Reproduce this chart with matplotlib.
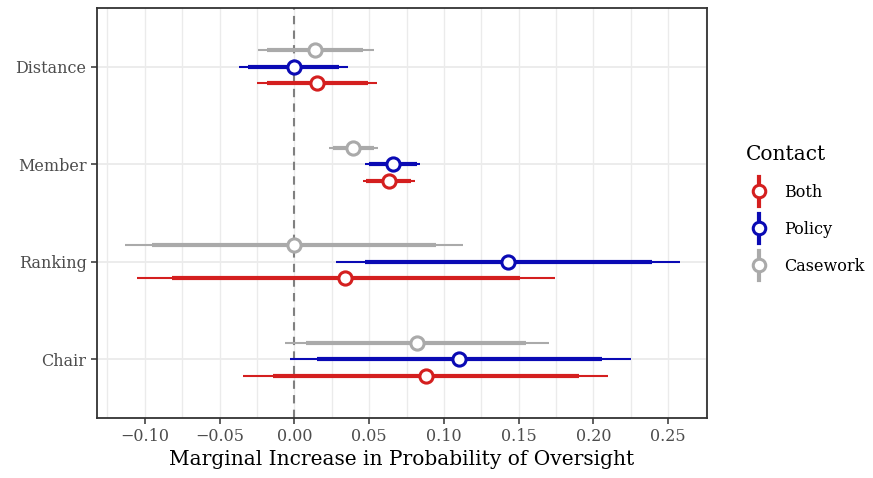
import numpy as np
import matplotlib.pyplot as plt
from matplotlib.lines import Line2D
from matplotlib.legend_handler import HandlerBase

plt.rcParams['font.family'] = ['DejaVu Serif']

categories = ["Chair", "Ranking", "Member", "Distance"]
series = ["Both", "Policy", "Casework"]
colors = {"Both": "#d41f1f", "Policy": "#0a0ab4", "Casework": "#aaaaaa"}

# point estimates, order follows categories
est = {
    "Both":     [0.088, 0.034, 0.063, 0.015],
    "Policy":   [0.110, 0.143, 0.066, 0.000],
    "Casework": [0.082, 0.000, 0.039, 0.014],
}
# wide interval (thin line)
lo_wide = {
    "Both":     [-0.034, -0.105, 0.046, -0.025],
    "Policy":   [-0.003, 0.028, 0.047, -0.037],
    "Casework": [-0.006, -0.113, 0.023, -0.024],
}
hi_wide = {
    "Both":     [0.210, 0.174, 0.081, 0.055],
    "Policy":   [0.225, 0.258, 0.084, 0.036],
    "Casework": [0.170, 0.113, 0.056, 0.053],
}
# narrow interval (thick line)
lo_narrow = {
    "Both":     [-0.014, -0.082, 0.048, -0.018],
    "Policy":   [0.015, 0.047, 0.050, -0.031],
    "Casework": [0.008, -0.095, 0.026, -0.018],
}
hi_narrow = {
    "Both":     [0.190, 0.151, 0.078, 0.049],
    "Policy":   [0.206, 0.239, 0.082, 0.030],
    "Casework": [0.155, 0.095, 0.053, 0.046],
}

offsets = {"Both": -0.17, "Policy": 0.0, "Casework": 0.17}


class HandlerPointRange(HandlerBase):
    def create_artists(self, legend, orig_handle, xdescent, ydescent,
                       width, height, fontsize, trans):
        c = orig_handle.get_color()
        cx = width / 2 - xdescent
        cy = height / 2 - ydescent
        bar = Line2D([cx, cx], [cy - 10.5, cy + 10.5], color=c, lw=3.0,
                     transform=trans)
        dot = Line2D([cx], [cy], marker="o", ls="none", ms=9, mfc="white",
                     mec=c, mew=2.2, transform=trans)
        return [bar, dot]


fig = plt.figure(figsize=(8.73, 4.78), dpi=100)
ax = fig.add_axes([0.111, 0.1255, 0.699, 0.8575])

ypos = np.arange(1, len(categories) + 1)

# grid
for x in np.arange(-0.125, 0.276, 0.025):
    ax.axvline(x, color="#ebebeb", lw=1.0, zorder=0)
for y in ypos:
    ax.axhline(y, color="#ebebeb", lw=1.3, zorder=0)

ax.axvline(0, color="#808080", lw=1.5, ls=(0, (4, 3)), zorder=1)

for s in series:
    y = ypos + offsets[s]
    c = colors[s]
    ax.hlines(y, lo_wide[s], hi_wide[s], color=c, lw=1.5, zorder=2)
    ax.hlines(y, lo_narrow[s], hi_narrow[s], color=c, lw=3.0, zorder=3)
    ax.plot(est[s], y, "o", ms=9.5, mfc="white", mec=c, mew=2.2, zorder=4)

ax.set_xlim(-0.132, 0.276)
ax.set_ylim(0.4, 4.6)
ticks = np.arange(-0.10, 0.26, 0.05)
ax.set_xticks(ticks)
ax.set_xticklabels([f"{v:.2f}".replace("-", "\u2212") for v in ticks])
ax.set_yticks(ypos)
ax.set_yticklabels(categories)
ax.tick_params(axis="both", labelsize=11.5, labelcolor="#4d4d4d", color="#333333",
               length=4, width=1.1)
for sp in ax.spines.values():
    sp.set_color("#333333")
    sp.set_linewidth(1.3)
ax.set_xlabel("Marginal Increase in Probability of Oversight", fontsize=14.5, labelpad=3)

handles = [Line2D([], [], color=colors[s]) for s in series]
leg = fig.legend(handles, series, handler_map={Line2D: HandlerPointRange()},
                 loc="center left", bbox_to_anchor=(0.838, 0.561), frameon=False,
                 title="Contact", title_fontsize=14.5, fontsize=11.5,
                 handlelength=1.6, labelspacing=1.26, handletextpad=0.8)
leg._legend_box.align = "left"

fig.savefig("out.png", dpi=100)
